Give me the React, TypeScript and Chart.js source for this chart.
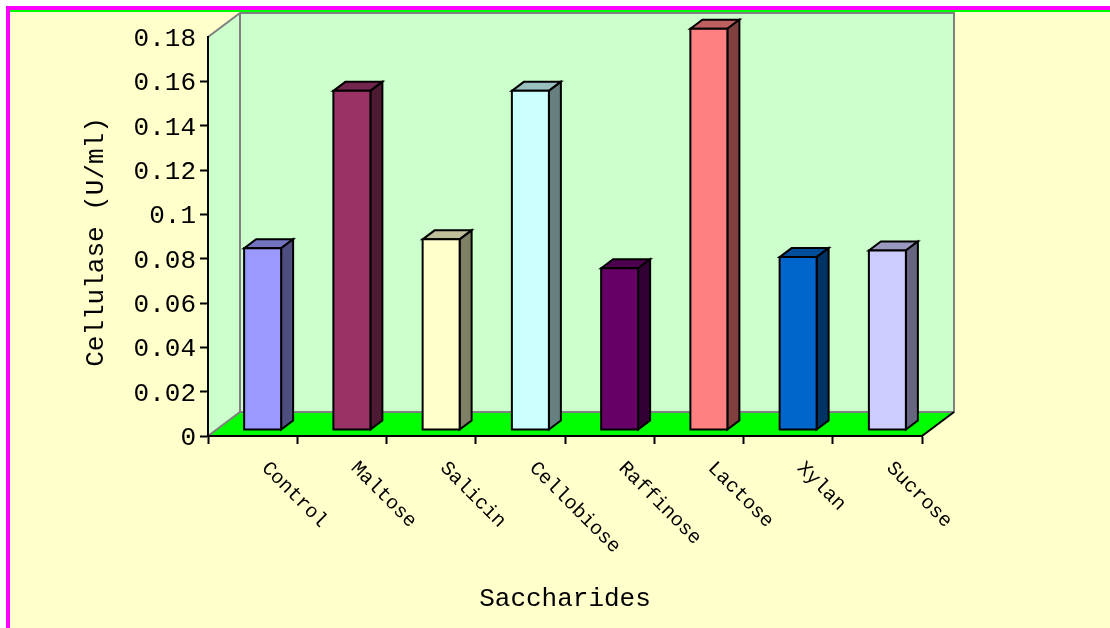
import React, { useEffect, useRef } from 'react';
import { Chart, registerables } from 'chart.js';

Chart.register(...registerables);

// Cellulase activity by carbon source
const categories = ['Control', 'Maltose', 'Salicin', 'Cellobiose', 'Raffinose', 'Lactose', 'Xylan', 'Sucrose'];
const cellulase = [0.082, 0.153, 0.086, 0.153, 0.073, 0.181, 0.078, 0.081];
const barColors = ['#9999FF', '#993366', '#FFFFCC', '#CCFFFF', '#660066', '#FF8080', '#0066CC', '#CCCCFF'];
const yMin = 0;
const yMax = 0.18;
const yStep = 0.02;
const xTitle = 'Saccharides';
const yTitle = 'Cellulase (U/ml)';

const FONT = '"Courier New", "Liberation Mono", monospace';
// 3D projection offsets (pixels)
const DEPTH = { x: 32, y: -24 };
const BAR_OFFSET = { x: 10, y: -6 };
const BAR_DEPTH = { x: 12, y: -9 };

function shade(hex: string, k: number): string {
  const n = parseInt(hex.slice(1), 16);
  const r = Math.round(((n >> 16) & 255) * k);
  const g = Math.round(((n >> 8) & 255) * k);
  const b = Math.round((n & 255) * k);
  return `rgb(${r},${g},${b})`;
}

function poly(ctx: CanvasRenderingContext2D, pts: number[][]) {
  ctx.beginPath();
  ctx.moveTo(pts[0][0], pts[0][1]);
  for (let i = 1; i < pts.length; i++) ctx.lineTo(pts[i][0], pts[i][1]);
  ctx.closePath();
}

const scenePlugin = {
  id: 'scene3d',
  beforeDraw(chart: any) {
    const { ctx, chartArea: a, width, height } = chart;
    ctx.save();
    // page frame
    ctx.fillStyle = '#FFFFFF';
    ctx.fillRect(0, 0, width, height);
    ctx.fillStyle = '#FFFFCC';
    ctx.fillRect(10, 12, width - 10, height - 12);
    ctx.fillStyle = '#FF00FF';
    ctx.fillRect(6, 6, 4, height - 6);
    ctx.fillRect(6, 6, width - 6, 4);
    ctx.fillStyle = '#00FF00';
    ctx.fillRect(10, 10, width - 10, 2);

    const L = a.left, R = a.right, T = a.top, B = a.bottom;
    const dx = DEPTH.x, dy = DEPTH.y;
    // side wall and back wall
    ctx.fillStyle = '#CCFFCC';
    poly(ctx, [[L, T], [L + dx, T + dy], [L + dx, B + dy], [L, B]]);
    ctx.fill();
    ctx.fillRect(L + dx, T + dy, R - L, B - T);
    // floor
    ctx.fillStyle = '#00FF00';
    poly(ctx, [[L, B], [L + dx, B + dy], [R + dx, B + dy], [R, B]]);
    ctx.fill();
    // wall edges
    ctx.strokeStyle = '#808080';
    ctx.lineWidth = 2;
    ctx.beginPath();
    ctx.moveTo(L, T);
    ctx.lineTo(L + dx, T + dy);
    ctx.lineTo(R + dx, T + dy);
    ctx.lineTo(R + dx, B + dy);
    ctx.lineTo(L + dx, B + dy);
    ctx.lineTo(L, B);
    ctx.moveTo(L + dx, T + dy);
    ctx.lineTo(L + dx, B + dy);
    ctx.stroke();
    ctx.strokeStyle = '#000000';
    ctx.beginPath();
    ctx.moveTo(R, B);
    ctx.lineTo(R + dx, B + dy);
    ctx.stroke();
    ctx.restore();
  },
  afterDatasetsDraw(chart: any) {
    const { ctx } = chart;
    const meta = chart.getDatasetMeta(0);
    ctx.save();
    ctx.lineWidth = 2;
    ctx.lineJoin = 'miter';
    ctx.strokeStyle = '#000000';
    meta.data.forEach((el: any, i: number) => {
      const p = el.getProps(['x', 'y', 'base', 'width'], true);
      const xl = p.x - p.width / 2 + BAR_OFFSET.x;
      const xr = p.x + p.width / 2 + BAR_OFFSET.x;
      const yt = p.y + BAR_OFFSET.y;
      const yb = p.base + BAR_OFFSET.y;
      const ddx = BAR_DEPTH.x, ddy = BAR_DEPTH.y;
      const c = barColors[i];
      // top
      poly(ctx, [[xl, yt], [xl + ddx, yt + ddy], [xr + ddx, yt + ddy], [xr, yt]]);
      ctx.fillStyle = shade(c, 0.75);
      ctx.fill();
      ctx.stroke();
      // side
      poly(ctx, [[xr, yt], [xr + ddx, yt + ddy], [xr + ddx, yb + ddy], [xr, yb]]);
      ctx.fillStyle = shade(c, 0.5);
      ctx.fill();
      ctx.stroke();
      // front
      ctx.beginPath();
      ctx.rect(xl, yt, xr - xl, yb - yt);
      ctx.fillStyle = c;
      ctx.fill();
      ctx.stroke();
    });
    ctx.restore();
  },
  afterDraw(chart: any) {
    const { ctx } = chart;
    const xs = chart.scales.x;
    const a = chart.chartArea;
    ctx.save();
    ctx.fillStyle = '#000000';
    // rotated category labels
    ctx.font = `20px ${FONT}`;
    ctx.textAlign = 'left';
    ctx.textBaseline = 'middle';
    categories.forEach((label, i) => {
      const x = xs.getPixelForTick(i) + 12;
      const y = a.bottom + 29;
      ctx.save();
      ctx.translate(x, y);
      ctx.rotate(Math.PI / 4);
      ctx.fillText(label, 0, 0);
      ctx.restore();
    });
    // axis titles
    ctx.font = `26px ${FONT}`;
    ctx.textAlign = 'center';
    ctx.textBaseline = 'alphabetic';
    ctx.fillText(xTitle, (a.left + a.right) / 2, 606);
    ctx.save();
    ctx.translate(103, 242);
    ctx.rotate(-Math.PI / 2);
    ctx.fillText(yTitle, 0, 0);
    ctx.restore();
    ctx.restore();
  },
};

export default function App() {
  const ref = useRef<HTMLCanvasElement>(null);
  useEffect(() => {
    const chart = new Chart(ref.current as HTMLCanvasElement, {
      type: 'bar',
      data: {
        labels: categories,
        datasets: [
          {
            label: 'Cellulase',
            data: cellulase,
            backgroundColor: 'rgba(0,0,0,0)',
            borderWidth: 0,
            categoryPercentage: 1,
            barPercentage: 37 / 89.25,
          },
        ],
      },
      options: {
        responsive: false,
        animation: false,
        layout: { padding: { left: 0, top: 37, right: 188, bottom: 0 } },
        plugins: { legend: { display: false }, tooltip: { enabled: false } },
        scales: {
          x: {
            offset: true,
            grid: {
              offset: true,
              drawOnChartArea: false,
              drawTicks: true,
              tickLength: 8,
              tickWidth: 2,
              tickColor: '#000000',
            },
            border: { display: true, color: '#000000', width: 2 },
            ticks: { display: false },
            afterFit: (s: any) => {
              s.height = 192;
            },
          },
          y: {
            min: yMin,
            max: yMax,
            grid: {
              drawOnChartArea: false,
              drawTicks: true,
              tickLength: 8,
              tickWidth: 2,
              tickColor: (c: any) => (c.tick && c.tick.value > yMax - 1e-9 ? 'rgba(0,0,0,0)' : '#000000'),
            },
            border: { display: true, color: '#000000', width: 2 },
            ticks: {
              stepSize: yStep,
              color: '#000000',
              padding: 4,
              labelOffset: 2,
              font: { family: FONT, size: 26 },
              callback: (v: any) => String(Number(Number(v).toFixed(2))),
            },
            afterFit: (s: any) => {
              s.width = 208;
            },
          },
        },
      },
      plugins: [scenePlugin],
    });
    return () => chart.destroy();
  }, []);
  return (
    <div style={{ position: 'fixed', left: 0, top: 0, width: 1110, height: 628 }}>
      <canvas ref={ref} width={1110} height={628} style={{ display: 'block', width: 1110, height: 628 }} />
    </div>
  );
}
